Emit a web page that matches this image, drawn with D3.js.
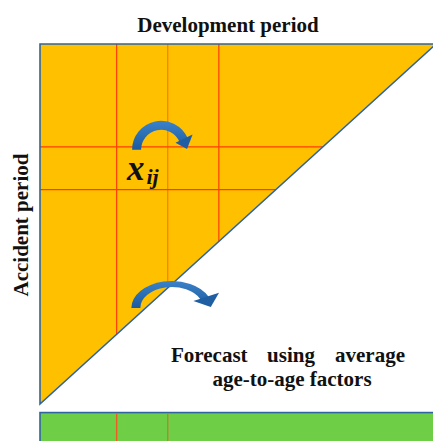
<!DOCTYPE html>
<html>
<head>
<meta charset="utf-8">
<script src="https://cdn.jsdelivr.net/npm/d3@7"></script>
<style>
  html, body { margin: 0; padding: 0; background: #fff; }
  svg { display: block; }
  .lab { font-family: "Liberation Serif", "Times New Roman", serif; font-weight: bold; fill: #111; }
</style>
</head>
<body>
<div class="wrapper"></div>
<script>
// chart size
var ultimatew = 433,
  ultimateh = 441;

// development / accident period axes (in period units)
var devDomain = [0, 7.75];
var accDomain = [0, 8.4];
var devBreaks = [1.5, 2.5, 3.5];
var accBreaks = [2.4, 3.4];
var forecastRow = [8.6, 9.6];
var forecastBreaks = [1.5, 2.5];

// age-to-age arrows: centre (dev, acc), stretch
var arrowCentres = [
  [2.37, 2.47],
  [2.58, 6.16]
];
var arrowStretch = [1, 1.5];

var x = d3.scaleLinear().domain(devDomain).range([40, 436]);
var y = d3.scaleLinear().domain(accDomain).range([44, 404]);

var svg = d3
  .select(".wrapper")
  .append("svg")
  .attr("width", ultimatew)
  .attr("height", ultimateh)
  .attr("viewBox", "0 0 " + ultimatew + " " + ultimateh);

var defs = svg.append("defs");

// triangle of known values
var tri = [
  [x(devDomain[0]), y(accDomain[0])],
  [x(devDomain[1]), y(accDomain[0])],
  [x(devDomain[0]), y(accDomain[1])]
];

defs
  .append("clipPath")
  .attr("id", "triClip")
  .append("polygon")
  .attr("points", tri.join(" "));

var grad = defs
  .append("linearGradient")
  .attr("id", "arrowGrad")
  .attr("x1", "0").attr("y1", "0")
  .attr("x2", "0").attr("y2", "1");
grad.append("stop").attr("offset", "0%").attr("stop-color", "#3b82c9");
grad.append("stop").attr("offset", "100%").attr("stop-color", "#1d5a9e");

svg
  .append("polygon")
  .attr("points", tri.join(" "))
  .attr("fill", "#ffc000");

// grid lines inside the triangle
var grid = svg.append("g").attr("clip-path", "url(#triClip)");

grid
  .selectAll(".vline")
  .data(devBreaks)
  .enter()
  .append("line")
  .attr("x1", function(d) { return x(d); })
  .attr("x2", function(d) { return x(d); })
  .attr("y1", y(accDomain[0]))
  .attr("y2", y(accDomain[1]))
  .attr("stroke", function(d, i) { return i == 1 ? "#ff7a00" : "#ff3c00"; })
  .attr("stroke-width", 1.2);

grid
  .selectAll(".hline")
  .data(accBreaks)
  .enter()
  .append("line")
  .attr("x1", x(devDomain[0]))
  .attr("x2", x(devDomain[1]))
  .attr("y1", function(d) { return y(d); })
  .attr("y2", function(d) { return y(d); })
  .attr("stroke", "#ff3c00")
  .attr("stroke-width", 1.2);

svg
  .append("polygon")
  .attr("points", tri.join(" "))
  .attr("fill", "none")
  .attr("stroke", "#2f64a0")
  .attr("stroke-width", 1.6);

// forecast row (green bar)
var bar = svg.append("g");
bar
  .append("rect")
  .attr("x", x(devDomain[0]))
  .attr("y", y(forecastRow[0]))
  .attr("width", x(devDomain[1]) - x(devDomain[0]))
  .attr("height", y(forecastRow[1]) - y(forecastRow[0]))
  .attr("fill", "#6ecf46")
  .attr("stroke", "#2f64a0")
  .attr("stroke-width", 1.6);

bar
  .selectAll(".fline")
  .data(forecastBreaks)
  .enter()
  .append("line")
  .attr("x1", function(d) { return x(d); })
  .attr("x2", function(d) { return x(d); })
  .attr("y1", y(forecastRow[0]) + 1)
  .attr("y2", y(forecastRow[1]))
  .attr("stroke", function(d, i) { return i == 1 ? "#b5862c" : "#f05a23"; })
  .attr("stroke-width", 1.4);

// curved arrows
var band = d3
  .arc()
  .innerRadius(20)
  .outerRadius(29)
  .startAngle(-Math.PI / 2)
  .endAngle((66 * Math.PI) / 180);

function polar(r, deg) {
  var a = (deg * Math.PI) / 180;
  return [r * Math.sin(a), -r * Math.cos(a)];
}

var head = [polar(16, 64), polar(35, 64), polar(26, 88)];

arrowCentres.forEach(function(c, i) {
  var g = svg
    .append("g")
    .attr(
      "transform",
      "translate(" + x(c[0]) + "," + y(c[1]) + ") scale(" + arrowStretch[i] + ",1)"
    );
  var b = i == 1 ? band.innerRadius(21).outerRadius(27) : band.innerRadius(20).outerRadius(29);
  g.append("path").attr("d", b()).attr("fill", "url(#arrowGrad)");
  g.append("polygon").attr("points", head.join(" ")).attr("fill", "#1f5ea3");
});

// labels
svg
  .append("text")
  .attr("class", "lab")
  .attr("x", 228)
  .attr("y", 32)
  .attr("text-anchor", "middle")
  .attr("font-size", 21)
  .text("Development period");

svg
  .append("text")
  .attr("class", "lab")
  .attr("transform", "translate(28,225) rotate(-90)")
  .attr("text-anchor", "middle")
  .attr("font-size", 21)
  .text("Accident period");

var xij = svg
  .append("text")
  .attr("class", "lab")
  .attr("x", 127)
  .attr("y", 180)
  .attr("font-style", "italic")
  .attr("font-size", 35);
xij.append("tspan").text("x");
xij.append("tspan").attr("font-size", 22).attr("dx", 2).attr("dy", 4).text("ij");

var words = ["Forecast", "using", "average"];
var wordX = [171, 291, 405];
var wordAnchor = ["start", "middle", "end"];
svg
  .selectAll(".word")
  .data(words)
  .enter()
  .append("text")
  .attr("class", "lab")
  .attr("x", function(d, i) { return wordX[i]; })
  .attr("y", 362)
  .attr("text-anchor", function(d, i) { return wordAnchor[i]; })
  .attr("font-size", 21)
  .text(function(d) { return d; });

svg
  .append("text")
  .attr("class", "lab")
  .attr("x", 292)
  .attr("y", 386)
  .attr("text-anchor", "middle")
  .attr("font-size", 21)
  .text("age-to-age factors");
</script>
</body>
</html>
